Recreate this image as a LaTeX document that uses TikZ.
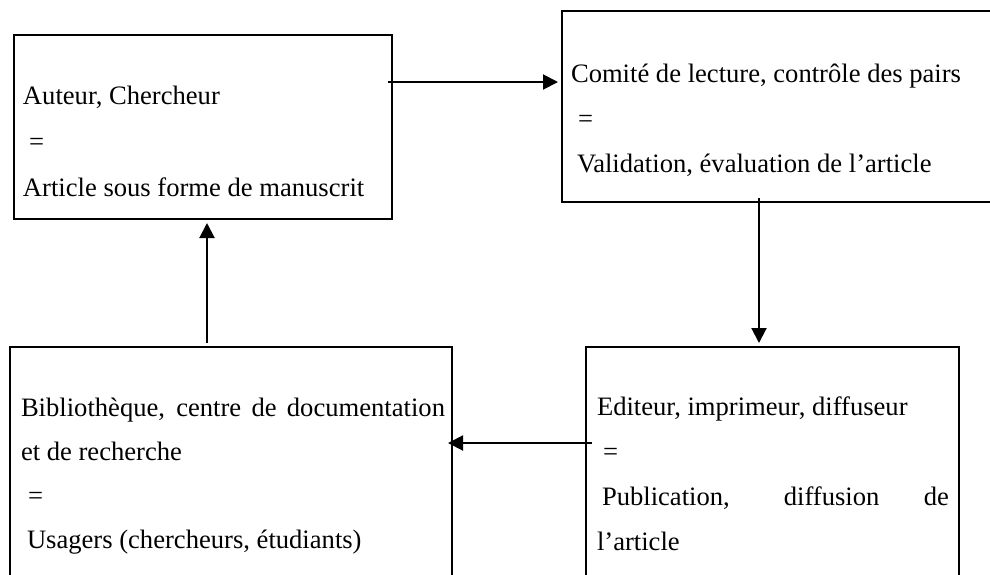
\documentclass[tikz,border=0pt]{standalone}
\usepackage{fontspec}
\setmainfont{Liberation Serif}
\usetikzlibrary{arrows.meta}
\begin{document}
\begin{tikzpicture}[x=0.5pt,y=-0.5pt,
  box/.style={draw, line width=1.2pt, inner sep=0pt, outer sep=0pt, anchor=north west},
  txt/.style={inner sep=0pt, outer sep=0pt, anchor=base west, font=\fontsize{13.3}{16}\selectfont},
  arr/.style={line width=1pt, -{Triangle[length=7.5pt,width=7.5pt]}}]
\useasboundingbox (0,0) rectangle (990,574);
% boxes
\node[box, minimum width=189pt, minimum height=92pt] (A) at (14,35) {};
\node[box, minimum width=219pt, minimum height=95.5pt] (B) at (562,11) {};
\node[box, minimum width=221pt, minimum height=125pt] (C) at (10,347) {};
\node[box, minimum width=186.5pt, minimum height=125pt] (D) at (586,347) {};
% texts A
\node[txt] (a1t) at (23,104) {Auteur, Chercheur};
\node[txt] (a2t) at (29,150) {=};
\node[txt] (a3t) at (23,196) {Article sous forme de manuscrit};
% texts B
\node[txt] (b1t) at (571,82) {Comité de lecture, contrôle des pairs};
\node[txt] (b2t) at (578,127) {=};
\node[txt] (b3t) at (577,172) {Validation, évaluation de l’article};
% texts C
\node[txt] (c1t) at (21,416) {\makebox[212pt][s]{Bibliothèque, centre de documentation}};
\node[txt] (c2t) at (21,460) {et de recherche};
\node[txt] (c3t) at (28,504) {=};
\node[txt] (c4t) at (27,548) {Usagers (chercheurs, étudiants)};
% texts D
\node[txt] (d1t) at (597,415) {Editeur, imprimeur, diffuseur};
\node[txt] (d2t) at (603,460) {=};
\node[txt] (d3t) at (602,505) {\makebox[173.5pt][s]{Publication, diffusion de}};
\node[txt] (d4t) at (597,550) {l’article};
% connectors
\coordinate (pa) at ([shift={(-4,47)}]A.north east);
\draw[arr, shorten >=2pt] (pa) -- (pa -| B.west);
\coordinate (pb) at ([shift={(197,-4)}]B.south west);
\draw[arr, shorten >=2pt] (pb) -- (pb |- D.north);
\coordinate (pd) at ([shift={(6,96)}]D.north west);
\draw[arr, shorten >=-2pt] (pd) -- (pd -| C.east);
\coordinate (pc) at ([shift={(197,-4)}]C.north west);
\draw[arr, shorten >=2pt] (pc) -- (pc |- A.south);
\end{tikzpicture}
\end{document}
